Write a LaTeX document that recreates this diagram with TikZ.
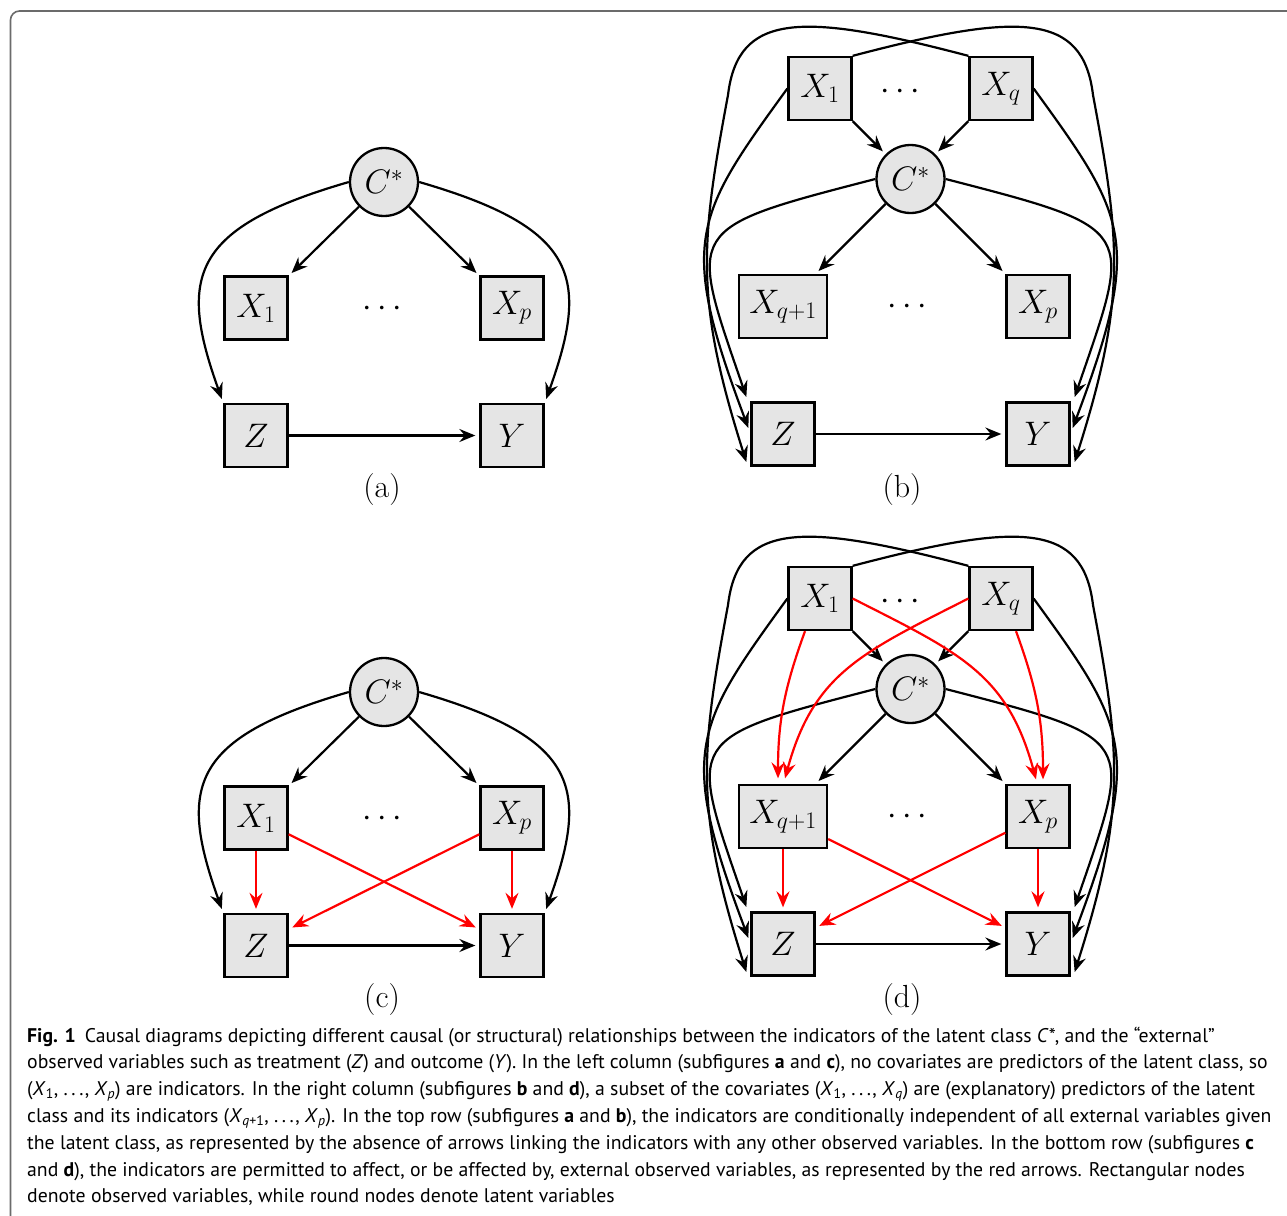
\RequirePackage{fix-cm}
\documentclass[tikz,border=0pt]{standalone}
\usepackage{fontspec}
\usetikzlibrary{arrows.meta}
\newfontfamily\capfont{PT Sans}
\newcommand\nodesize{\fontsize{34}{40}\selectfont}
\newcommand\labsize{\fontsize{32}{38}\selectfont}
\newcommand\capsize{\capfont\fontsize{19.75}{24}\selectfont}
\newcommand\capX[1]{\textit{X}\textsubscript{#1}}
\newcommand\capdots{.\hspace{3.6pt}.\hspace{3.6pt}.}

\newcommand\panelLeft[2]{%
  \node[lat] (#1C) at (384,182) {$C^*$};
  \node[obs] (#1X1) at (256,308) {$X_1$};
  \node[obs] (#1Xp) at (512,308) {$X_p$};
  \node[obs] (#1Z) at (256,435.5) {$Z$};
  \node[obs] (#1Y) at (512,435.5) {$Y$};
  \node[dotsn] (#1dots) at (382,308.5) {$\cdots$};
  \node[lab] (#1lab) at (382,490) {(#2)};
  \draw[arr] (#1C) -- (#1X1);
  \draw[arr] (#1C) -- (#1Xp);
  \draw[arr] (#1Z) -- (#1Y);
  \draw[cur] (#1C.west) .. controls (190,228) and (178,277) .. ([shift={(-1.5,-36.5)}]#1Z.west);
  \draw[cur] (#1C.east) .. controls (578,228) and (590,277) .. ([shift={(1.5,-36.5)}]#1Y.east);
}

\newcommand\panelRight[2]{%
  \node[lat] (#1C) at (910.5,179) {$C^*$};
  \node[obs] (#1X1) at (820,88.5) {$X_1$};
  \node[obs] (#1Xq) at (1001,88.5) {$X_q$};
  \node[obs,minimum width=88pt] (#1Xq1) at (783,306.5) {$X_{q+1}$};
  \node[obs] (#1Xp) at (1038,306.5) {$X_p$};
  \node[obs] (#1Z) at (783,434) {$Z$};
  \node[obs] (#1Y) at (1038,434) {$Y$};
  \node[dotsn] (#1dotsa) at (900,91.5) {$\cdots$};
  \node[dotsn] (#1dotsb) at (907.5,306.5) {$\cdots$};
  \node[lab] (#1lab) at (902,490) {(#2)};
  \draw[arr] (#1X1) -- (#1C);
  \draw[arr] (#1Xq) -- (#1C);
  \draw[arr] (#1C) -- (#1Xq1);
  \draw[arr] (#1C) -- (#1Xp);
  \draw[arr] (#1Z) -- (#1Y);
  \draw[cur] (#1C.west) .. controls (682,229) and (688,227) .. ([shift={(-4,-37)}]#1Z.west);
  \draw[cur] (#1C.east) .. controls (1139,229) and (1133,227) .. ([shift={(4,-37)}]#1Y.east);
  \draw[cur] (#1X1.west) .. controls (694,217) and (678,241) .. ([shift={(-2,-6)}]#1Z.west);
  \draw[cur] (#1Xq.east) .. controls (1127,217) and (1143,241) .. ([shift={(2,-6)}]#1Y.east);
  \draw[cur] (#1Xq.north west) .. controls (802,12) and (738,12) .. (728,95)
     .. controls (700,245) and (695,300) .. ([shift={(-4,28)}]#1Z.west);
  \draw[cur] (#1X1.north east) .. controls (1019,12) and (1083,12) .. (1093,95)
     .. controls (1121,245) and (1126,300) .. ([shift={(4,28)}]#1Y.east);
}

\begin{document}
\begin{tikzpicture}[x=1pt,y=-1pt,
  obs/.style={draw,line width=2.3pt,fill=black!10,minimum width=63pt,minimum height=63pt,inner sep=0pt,font=\nodesize},
  lat/.style={circle,draw,line width=2.3pt,fill=black!10,minimum size=68pt,inner sep=0pt,font=\nodesize},
  dotsn/.style={inner sep=0pt,font=\nodesize},
  lab/.style={inner sep=0pt,font=\labsize},
  tip/.style={-{Stealth[length=16pt,width=13pt,inset=5.5pt]}},
  arr/.style={line width=2.2pt,tip,shorten >=4pt},
  cur/.style={line width=2.2pt,tip},
  rarr/.style={arr,draw=red},
  rcur/.style={cur,draw=red},
  capline/.style={anchor=base west,inner sep=0pt,font=\capsize}]
\useasboundingbox (0,0) rectangle (1287,1215);
\fill[white] (0,0) rectangle (1287,1215);
\draw[black!58,line width=1.6pt,rounded corners=9pt] (1300,11) -- (10.5,11) -- (10.5,1226) -- (1300,1226);

% (a)
\panelLeft{a}{a}
% (b)
\panelRight{b}{b}
% (c)
\begin{scope}[shift={(0,510)}]
  \panelLeft{c}{c}
  \draw[rarr] (cX1) -- (cZ);
  \draw[rarr] (cXp) -- (cY);
  \draw[rarr] (cX1) -- (cY);
  \draw[rarr] (cXp) -- (cZ);
\end{scope}
% (d)
\begin{scope}[shift={(0,510)}]
  \panelRight{d}{d}
  \draw[rarr] (dXq1) -- (dZ);
  \draw[rarr] (dXp) -- (dY);
  \draw[rarr] (dXq1) -- (dY);
  \draw[rarr] (dXp) -- (dZ);
  \draw[rcur] ([shift={(-15,0)}]dX1.south) .. controls (785,176) and (778,210) .. ([shift={(-5,-5.5)}]dXq1.north);
  \draw[rcur] ([shift={(15,0)}]dXq.south) .. controls (1036,176) and (1043,210) .. ([shift={(5,-4.5)}]dXp.north);
  \draw[rcur] (dXq.west) .. controls (862,142.5) and (813.6,163.3) .. ([shift={(2,-5.5)}]dXq1.north);
  \draw[rcur] (dX1.east) .. controls (959,142.5) and (1007.4,163.3) .. ([shift={(-2,-4.5)}]dXp.north);
\end{scope}

% caption
\node[capline] (cap1) at (27,1042) {\textbf{Fig. 1}\hspace{9pt}Causal diagrams depicting different causal (or structural) relationships between the indicators of the latent class \textit{C}*, and the “external”};
\node[capline] (cap2) at (27,1068.8) {observed variables such as treatment (\textit{Z}) and outcome (\textit{Y}). In the left column (subfigures \textbf{a} and \textbf{c}), no covariates are predictors of the latent class, so};
\node[capline] (cap3) at (27,1095.6) {(\capX{1}, \capdots, \capX{\textit{p}}) are indicators. In the right column (subfigures \textbf{b} and \textbf{d}), a subset of the covariates (\capX{1}, \capdots, \capX{\textit{q}}) are (explanatory) predictors of the latent};
\node[capline] (cap4) at (27,1122.4) {class and its indicators (\capX{\textit{q}+1}, \capdots, \capX{\textit{p}}). In the top row (subfigures \textbf{a} and \textbf{b}), the indicators are conditionally independent of all external variables given};
\node[capline] (cap5) at (27,1149.2) {the latent class, as represented by the absence of arrows linking the indicators with any other observed variables. In the bottom row (subfigures \textbf{c}};
\node[capline] (cap6) at (27,1176) {and \textbf{d}), the indicators are permitted to affect, or be affected by, external observed variables, as represented by the red arrows. Rectangular nodes};
\node[capline] (cap7) at (27,1202.8) {denote observed variables, while round nodes denote latent variables};
\end{tikzpicture}
\end{document}
